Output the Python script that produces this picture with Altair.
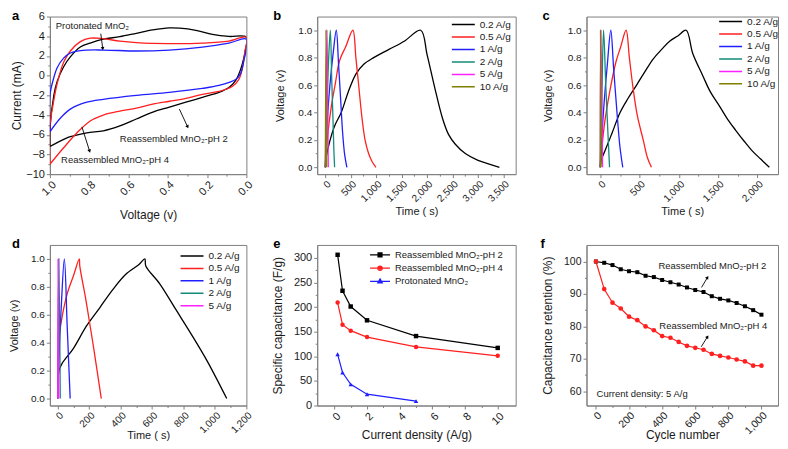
import altair as alt
import pandas as pd

FONT = "Liberation Sans, Arial, Helvetica, sans-serif"
GRAY = "#808080"
INK = "#1a1a1a"

# ---------------- panel a : cyclic voltammetry ----------------
A_NAMES = ["Reassembled MnO\u2082-pH 2", "Reassembled MnO\u2082-pH 4", "Protonated MnO\u2082"]
A_COLORS = ["#000000", "#ff1f1f", "#1f1fff"]
A_PH2_V = [1.0, 1.0, 0.98, 0.963, 0.93, 0.896, 0.845, 0.795, 0.728, 0.644, 0.56, 0.476, 0.392, 0.34, 0.257, 0.173, 0.089, 0.0,
           0.005, 0.013, 0.03, 0.055, 0.089, 0.14, 0.224, 0.308, 0.392, 0.476, 0.56, 0.644, 0.728, 0.812, 0.896, 0.963, 1.0]
A_PH2_I = [-7.2, -5.5, -2.0, -0.6, 0.9, 1.9, 2.9, 3.3, 3.7, 3.95, 4.3, 4.65, 4.85, 4.82, 4.6, 4.2, 3.98, 3.9,
           2.6, 1.8, 0.6, -0.5, -1.2, -1.7, -2.2, -2.7, -3.2, -3.7, -4.4, -5.1, -5.6, -5.8, -6.2, -6.8, -7.2]
A_PH4_V = [1.0, 1.0, 0.98, 0.963, 0.929, 0.896, 0.845, 0.795, 0.728, 0.644, 0.56, 0.392, 0.224, 0.089, 0.0,
           0.008, 0.022, 0.039, 0.072, 0.14, 0.224, 0.308, 0.392, 0.476, 0.56, 0.644, 0.728, 0.795, 0.862, 0.929, 1.0]
A_PH4_I = [-9.0, -5.2, -2.5, -0.8, 1.4, 2.5, 3.45, 3.8, 3.75, 3.5, 3.35, 3.25, 3.3, 3.5, 3.9,
           2.4, 0.6, -0.4, -1.1, -1.6, -1.9, -2.3, -2.6, -2.9, -3.3, -3.6, -4.0, -4.6, -5.8, -7.3, -9.0]
A_PROT_V = [1.0, 1.0, 0.98, 0.963, 0.929, 0.896, 0.845, 0.728, 0.56, 0.392, 0.224, 0.089, 0.0,
            0.013, 0.03, 0.055, 0.14, 0.224, 0.392, 0.56, 0.728, 0.812, 0.896, 0.946, 1.0]
A_PROT_I = [-5.7, -2.0, -0.2, 0.8, 1.8, 2.3, 2.55, 2.6, 2.5, 2.6, 2.9, 3.3, 3.7,
            1.5, 0.2, -0.4, -1.0, -1.3, -1.7, -2.0, -2.4, -2.7, -3.4, -4.3, -5.7]
A_NOTE_TEXT = ["Protonated MnO\u2082", "Reassembled MnO\u2082-pH 2", "Reassembled MnO\u2082-pH 4"]
A_NOTE_V = [0.97, 0.644, 0.943]
A_NOTE_I = [5.0, -6.48, -8.56]
A_ARROW_V1 = [0.741, 0.341, 0.837]
A_ARROW_I1 = [4.26, -3.4, -5.2]
A_ARROW_V2 = [0.731, 0.299, 0.798]
A_ARROW_I2 = [2.74, -5.2, -7.66]
A_ARROW_ANGLE = [172, 155, 163]

# ---------------- panels b, c, d : charge / discharge ----------------
GCD_NAMES = ["0.2 A/g", "0.5 A/g", "1 A/g", "2 A/g", "5 A/g", "10 A/g"]
GCD_COLORS = ["#000000", "#ff2020", "#2020ff", "#138a7a", "#ff20ff", "#7f7f00"]

B_T_02 = [0, 20, 80, 180, 312, 450, 600, 750, 950, 1250, 1550, 1874, 2000, 2150, 2300, 2420, 2550, 2750, 3000, 3250, 3420]
B_V_02 = [0, 0.08, 0.18, 0.30, 0.40, 0.55, 0.68, 0.75, 0.80, 0.86, 0.92, 1.0, 0.82, 0.58, 0.36, 0.24, 0.17, 0.10, 0.05, 0.02, 0.0]
B_T_05 = [0, 50, 120, 200, 260, 300, 400, 540, 600, 660, 720, 780, 850, 920, 995]
B_V_05 = [0, 0.25, 0.45, 0.62, 0.75, 0.80, 0.88, 1.0, 0.80, 0.58, 0.36, 0.20, 0.10, 0.04, 0.0]
B_T_1 = [0, 40, 90, 150, 215, 260, 300, 340, 380, 423]
B_V_1 = [0, 0.35, 0.60, 0.82, 1.0, 0.75, 0.50, 0.25, 0.09, 0.0]
B_T_2 = [0, 30, 60, 98, 125, 150, 168, 182]
B_V_2 = [0, 0.45, 0.75, 1.0, 0.65, 0.35, 0.12, 0.0]
B_T_5 = [0, 15, 33, 45, 58]
B_V_5 = [0, 0.55, 1.0, 0.5, 0.0]
B_T_10 = [0, 13, 26]
B_V_10 = [0, 1.0, 0.0]

C_T_02 = [0, 10, 60, 150, 252, 350, 462, 570, 672, 780, 882, 990, 1092, 1176, 1302, 1400, 1512, 1620, 1722, 1830, 1932, 2040, 2150]
C_V_02 = [0.0, 0.05, 0.12, 0.25, 0.40, 0.50, 0.60, 0.70, 0.79, 0.86, 0.92, 0.96, 1.0, 0.83, 0.67, 0.55, 0.45, 0.35, 0.27, 0.19, 0.12, 0.06, 0.0]
C_T_05 = [0, 50, 120, 200, 260, 328, 370, 412, 470, 546, 600, 651]
C_V_05 = [0, 0.30, 0.55, 0.77, 0.88, 1.0, 0.80, 0.60, 0.38, 0.20, 0.07, 0.0]
C_T_1 = [0, 40, 90, 134, 170, 210, 250, 286]
C_V_1 = [0, 0.40, 0.75, 1.0, 0.72, 0.42, 0.15, 0.0]
C_T_2 = [0, 20, 42, 70, 95, 118]
C_V_2 = [0, 0.50, 1.0, 0.60, 0.28, 0.0]
C_T_5 = [0, 8, 29]
C_V_5 = [0, 1.0, 0.0]
C_T_10 = [0, 3, 10]
C_V_10 = [0, 1.0, 0.0]

D_T_02 = [2, 8, 27, 100, 183, 267, 350, 433, 517, 554, 560, 650, 750, 850, 950, 1075]
D_V_02 = [0.12, 0.20, 0.25, 0.36, 0.52, 0.65, 0.78, 0.89, 0.96, 1.0, 0.95, 0.82, 0.64, 0.46, 0.27, 0.0]
D_T_05 = [0, 3, 10, 30, 60, 100, 137, 140, 180, 230, 277]
D_V_05 = [0, 0.30, 0.45, 0.60, 0.75, 0.88, 1.0, 0.95, 0.70, 0.35, 0.0]
D_T_1 = [0, 8, 22, 42, 60, 79]
D_V_1 = [0, 0.30, 0.65, 1.0, 0.52, 0.0]
D_T_2 = [0, 7, 16]
D_V_2 = [0, 1.0, 0.0]
D_T_5 = [0, 2, 6]
D_V_5 = [0, 1.0, 0.0]

# ---------------- panel e : rate capability ----------------
E_NAMES = ["Reassembled MnO\u2082-pH 2", "Reassembled MnO\u2082-pH 4", "Protonated MnO\u2082"]
E_COLORS = ["#000000", "#ff1f1f", "#1f1fff"]
E_SHAPES = ["square", "circle", "triangle-up"]
E_X_PH2 = [0.2, 0.5, 1, 2, 5, 10]
E_C_PH2 = [306, 233, 201, 173, 141, 117]
E_X_PH4 = [0.2, 0.5, 1, 2, 5, 10]
E_C_PH4 = [209, 164, 152, 139, 119, 101]
E_X_PROT = [0.2, 0.5, 1, 2, 5]
E_C_PROT = [104, 67, 43, 23, 9]

# ---------------- panel f : cycling ----------------
F_NAMES = ["Reassembled MnO\u2082-pH 2", "Reassembled MnO\u2082-pH 4"]
F_COLORS = ["#000000", "#ff1f1f"]
F_CYCLE = [0, 50, 100, 150, 200, 250, 300, 350, 400, 450, 500, 550, 600, 650, 700, 750, 800, 850, 900, 950, 1000]
F_PH2 = [100, 99.6, 98.9, 97.6, 97.0, 96.7, 95.6, 95.2, 94.3, 93.6, 92.9, 92.0, 91.2, 90.6, 89.3, 88.5, 88.0, 87.2, 86.2, 85.0, 83.6]
F_PH4 = [100, 91.5, 87.3, 85.5, 83.0, 81.9, 80.0, 78.8, 77.0, 76.5, 75.2, 74.0, 73.4, 72.8, 71.5, 70.9, 70.4, 69.8, 69.2, 67.9, 67.9]
F_NOTE_TEXT = ["Reassembled MnO\u2082-pH 2", "Reassembled MnO\u2082-pH 4", "Current density: 5 A/g"]
F_NOTE_X = [378, 383, 4]
F_NOTE_Y = [98.7, 80.1, 59.2]
F_ARROW_X1 = [638, 636]
F_ARROW_Y1 = [92.0, 73.7]
F_ARROW_X2 = [674, 674]
F_ARROW_Y2 = [95.1, 76.8]
F_ARROW_ANGLE = [33, 33]


# ---------------- helpers ----------------
def frame(names, xs_list, ys_list):
    rows = []
    for name, xs, ys in zip(names, xs_list, ys_list):
        for i, (x, y) in enumerate(zip(xs, ys)):
            rows.append({"s": name, "x": x, "y": y, "i": i})
    return pd.DataFrame(rows)


def x_axis(values, fmt, title, lsize, tsize, ty):
    return alt.Axis(values=values, format=fmt, title=title, orient="bottom", grid=False,
                    labelAngle=315, labelAlign="right", labelBaseline="top", labelPadding=1,
                    labelFlush=False, labelOverlap=False, tickSize=3.5,
                    labelFontSize=lsize, titleFontSize=tsize, titleY=ty, titleBaseline="alphabetic")


def y_axis(values, fmt, title, lsize, tsize, tx):
    return alt.Axis(values=values, format=fmt, title=title, orient="left", grid=False,
                    labelPadding=2, labelFlush=False, labelOverlap=False, tickSize=3.5,
                    labelFontSize=lsize, titleFontSize=tsize, titleX=tx, titleBaseline="middle")


def minor(df, xs, ys, xmin, ymin):
    return alt.Chart(df).mark_point(opacity=0, size=1).encode(
        x=alt.X("x:Q", scale=xs, axis=alt.Axis(values=xmin, orient="bottom", labels=False, domain=False,
                                               tickSize=2, title=None, grid=False)),
        y=alt.Y("y:Q", scale=ys, axis=alt.Axis(values=ymin, orient="left", labels=False, domain=False,
                                               tickSize=2, title=None, grid=False)))


def letter(ch, dx, dy):
    return alt.Chart(pd.DataFrame({"t": [ch]})).mark_text(
        fontSize=13, fontWeight="bold", align="left", baseline="alphabetic", color="black", font=FONT
    ).encode(text="t:N", x=alt.value(dx), y=alt.value(dy))


def gcd_legend(lx, ly):
    return alt.Legend(orient="none", legendX=lx, legendY=ly, title=None, symbolType="stroke",
                      symbolSize=529, symbolStrokeWidth=1.5, clipHeight=10, rowPadding=2.5,
                      labelFontSize=10, labelOffset=4, padding=0, labelColor=INK, labelFont=FONT)


W1, W2, W3 = 197, 199, 192
H1, H2 = 158, 161

# ---------------- panel a ----------------
a_df = frame(A_NAMES, [A_PH2_V, A_PH4_V, A_PROT_V], [A_PH2_I, A_PH4_I, A_PROT_I])
a_xs = alt.Scale(domain=[0, 1], reverse=True, nice=False, zero=False)
a_ys = alt.Scale(domain=[-10, 6], nice=False, zero=False)
a_lines = alt.Chart(a_df).mark_line(strokeWidth=1.3, interpolate="catmull-rom", clip=True).encode(
    x=alt.X("x:Q", scale=a_xs, axis=x_axis([0, 0.2, 0.4, 0.6, 0.8, 1.0], ".1f", "Voltage (v)", 11, 12, 44)),
    y=alt.Y("y:Q", scale=a_ys, axis=y_axis([-10, -8, -6, -4, -2, 0, 2, 4, 6], "d", "Current (mA)", 11, 12, -33)),
    color=alt.Color("s:N", scale=alt.Scale(domain=A_NAMES, range=A_COLORS), legend=None),
    order="i:Q")
a_note_df = pd.DataFrame({"t": A_NOTE_TEXT, "x": A_NOTE_V, "y": A_NOTE_I})
a_notes = alt.Chart(a_note_df).mark_text(fontSize=9.5, align="left", baseline="middle", color=INK).encode(
    x=alt.X("x:Q", scale=a_xs, axis=None), y=alt.Y("y:Q", scale=a_ys, axis=None), text="t:N")
a_arrow_df = pd.DataFrame({"x": A_ARROW_V1, "y": A_ARROW_I1, "x2": A_ARROW_V2, "y2": A_ARROW_I2, "ang": A_ARROW_ANGLE})
a_rules = alt.Chart(a_arrow_df).mark_rule(strokeWidth=0.9, color="black").encode(
    x=alt.X("x:Q", scale=a_xs, axis=None), y=alt.Y("y:Q", scale=a_ys, axis=None), x2="x2:Q", y2="y2:Q")
a_heads = alt.Chart(a_arrow_df).mark_point(shape="triangle-up", filled=True, size=14, color="black", opacity=1).encode(
    x=alt.X("x2:Q", scale=a_xs, axis=None), y=alt.Y("y2:Q", scale=a_ys, axis=None),
    angle=alt.Angle("ang:Q", scale=None))
pa = alt.layer(
    minor(a_df, a_xs, a_ys, [0.1, 0.3, 0.5, 0.7, 0.9], [-9, -7, -5, -3, -1, 1, 3, 5]),
    a_lines, a_rules, a_heads, a_notes, letter("a", -38, 3)
).resolve_axis(x="independent", y="independent").properties(width=W1, height=H1)


# ---------------- panels b, c, d ----------------
def gcd_panel(ts, vs, names, colors, xdom, xmaj, xmin, ch, lx, ly, width, height, ty, tx, ldx):
    df = frame(names, ts, vs)
    xs = alt.Scale(domain=xdom, nice=False, zero=False)
    ys = alt.Scale(domain=[-0.05, 1.1], nice=False, zero=False)
    lines = alt.Chart(df).mark_line(strokeWidth=1.3, interpolate="catmull-rom", clip=True).encode(
        x=alt.X("x:Q", scale=xs, axis=x_axis(xmaj, ",d", "Time ( s)", 10, 11, ty)),
        y=alt.Y("y:Q", scale=ys, axis=y_axis([0, 0.2, 0.4, 0.6, 0.8, 1.0], ".1f", "Voltage (v)", 10, 11, tx)),
        color=alt.Color("s:N", scale=alt.Scale(domain=names, range=colors), legend=gcd_legend(lx, ly)),
        order="i:Q")
    return alt.layer(
        minor(df, xs, ys, xmin, [0.1, 0.3, 0.5, 0.7, 0.9]), lines, letter(ch, ldx, 3)
    ).resolve_axis(x="independent", y="independent").properties(width=width, height=height)


pb = gcd_panel([B_T_02, B_T_05, B_T_1, B_T_2, B_T_5, B_T_10], [B_V_02, B_V_05, B_V_1, B_V_2, B_V_5, B_V_10],
               GCD_NAMES, GCD_COLORS, [-160, 3740], [0, 500, 1000, 1500, 2000, 2500, 3000, 3500],
               [250, 750, 1250, 1750, 2250, 2750, 3250], "b", 134, 3, W2, H1, 40, -37, -44)
pc = gcd_panel([C_T_02, C_T_05, C_T_1, C_T_2, C_T_5, C_T_10], [C_V_02, C_V_05, C_V_1, C_V_2, C_V_5, C_V_10],
               GCD_NAMES, GCD_COLORS, [-175, 2260], [0, 500, 1000, 1500, 2000],
               [250, 750, 1250, 1750], "c", 132, 0, W3, H1, 40, -38, -44)
pd_ = gcd_panel([D_T_02, D_T_05, D_T_1, D_T_2, D_T_5], [D_V_02, D_V_05, D_V_1, D_V_2, D_V_5],
                GCD_NAMES[:5], GCD_COLORS[:5], [-50, 1200], [0, 200, 400, 600, 800, 1000, 1200],
                [100, 300, 500, 700, 900, 1100], "d", 130, 6, W1, H2, 33, -35, -38)

# ---------------- panel e ----------------
e_df = frame(E_NAMES, [E_X_PH2, E_X_PH4, E_X_PROT], [E_C_PH2, E_C_PH4, E_C_PROT])
e_xs = alt.Scale(domain=[-1.05, 11.1], nice=False, zero=False)
e_ys = alt.Scale(domain=[0, 326], nice=False, zero=False)
e_layers = []
for k, (name, col, shp) in enumerate(zip(E_NAMES, E_COLORS, E_SHAPES)):
    if k == 0:
        ex = alt.X("x:Q", scale=e_xs, axis=x_axis([0, 2, 4, 6, 8, 10], "d", "Current density (A/g)", 11, 12, 33))
        ey = alt.Y("y:Q", scale=e_ys, axis=y_axis([0, 50, 100, 150, 200, 250, 300], "d",
                                                   "Specific capacitance (F/g)", 11, 12, -40))
    else:
        ex = alt.X("x:Q", scale=e_xs, axis=None)
        ey = alt.Y("y:Q", scale=e_ys, axis=None)
    sub = alt.Chart(e_df).transform_filter(alt.datum.s == name)
    e_layers.append(sub.mark_line(strokeWidth=1.2, color=col).encode(x=ex, y=ey, order="i:Q"))
    e_layers.append(sub.mark_point(shape=shp, filled=True, size=20, opacity=1, color=col).encode(
        x=alt.X("x:Q", scale=e_xs, axis=None), y=alt.Y("y:Q", scale=e_ys, axis=None)))

E_LEGEND_PATHS = [
    "M-1,0H1M-0.2,-0.2H0.2V0.2H-0.2ZM-0.08,-0.08H0.08V0.08H-0.08Z",
    "M-1,0H1M-0.22,0A0.22,0.22,0,1,0,0.22,0A0.22,0.22,0,1,0,-0.22,0Z"
    "M-0.1,0A0.1,0.1,0,1,0,0.1,0A0.1,0.1,0,1,0,-0.1,0Z",
    "M-1,0H1M0,-0.26L0.23,0.15H-0.23ZM0,-0.08L0.07,0.06H-0.07Z",
]
e_leg = alt.Legend(orient="none", legendX=52, legendY=5, title=None, symbolSize=400, symbolStrokeWidth=1.2,
                   symbolOpacity=1, clipHeight=10, rowPadding=3.3, labelFontSize=9.5, labelOffset=4,
                   padding=0, labelColor=INK, labelFont=FONT, labelLimit=250)
e_legend_layer = alt.Chart(e_df).mark_point(filled=False, strokeWidth=1.2, opacity=0).encode(
    x=alt.X("x:Q", scale=e_xs, axis=None), y=alt.Y("y:Q", scale=e_ys, axis=None),
    stroke=alt.Stroke("s:N", scale=alt.Scale(domain=E_NAMES, range=E_COLORS), legend=e_leg),
    shape=alt.Shape("s:N", scale=alt.Scale(domain=E_NAMES, range=E_LEGEND_PATHS), legend=e_leg))
pe = alt.layer(
    minor(e_df, e_xs, e_ys, [1, 3, 5, 7, 9], [25, 75, 125, 175, 225, 275]),
    *e_layers, e_legend_layer, letter("e", -44, 3)
).resolve_axis(x="independent", y="independent").properties(width=W2, height=H2)

# ---------------- panel f ----------------
f_df = frame(F_NAMES, [F_CYCLE, F_CYCLE], [F_PH2, F_PH4])
f_xs = alt.Scale(domain=[-57, 1100], nice=False, zero=False)
f_ys = alt.Scale(domain=[55.6, 105.1], nice=False, zero=False)
f_color = alt.Scale(domain=F_NAMES, range=F_COLORS)
f_lines = alt.Chart(f_df).mark_line(strokeWidth=1.2).encode(
    x=alt.X("x:Q", scale=f_xs, axis=x_axis([0, 200, 400, 600, 800, 1000], ",d", "Cycle number", 10.5, 12, 33)),
    y=alt.Y("y:Q", scale=f_ys, axis=y_axis([60, 70, 80, 90, 100], "d", "Capacitance retention (%)", 10.5, 12, -39)),
    color=alt.Color("s:N", scale=f_color, legend=None),
    order="i:Q")
f_points = [
    alt.Chart(f_df).transform_filter(alt.datum.s == name).mark_point(shape=shape, filled=True, size=size, opacity=1).encode(
        x=alt.X("x:Q", scale=f_xs, axis=None), y=alt.Y("y:Q", scale=f_ys, axis=None),
        color=alt.Color("s:N", scale=f_color, legend=None))
    for name, shape, size in zip(F_NAMES, ["square", "circle"], [16, 22])
]
f_note_df = pd.DataFrame({"t": F_NOTE_TEXT, "x": F_NOTE_X, "y": F_NOTE_Y})
f_notes = alt.Chart(f_note_df).mark_text(fontSize=9.5, align="left", baseline="middle", color=INK).encode(
    x=alt.X("x:Q", scale=f_xs, axis=None), y=alt.Y("y:Q", scale=f_ys, axis=None), text="t:N")
f_arrow_df = pd.DataFrame({"x": F_ARROW_X1, "y": F_ARROW_Y1, "x2": F_ARROW_X2, "y2": F_ARROW_Y2, "ang": F_ARROW_ANGLE})
f_rules = alt.Chart(f_arrow_df).mark_rule(strokeWidth=0.9, color="black").encode(
    x=alt.X("x:Q", scale=f_xs, axis=None), y=alt.Y("y:Q", scale=f_ys, axis=None), x2="x2:Q", y2="y2:Q")
f_heads = alt.Chart(f_arrow_df).mark_point(shape="triangle-up", filled=True, size=14, color="black", opacity=1).encode(
    x=alt.X("x2:Q", scale=f_xs, axis=None), y=alt.Y("y2:Q", scale=f_ys, axis=None),
    angle=alt.Angle("ang:Q", scale=None))
pf = alt.layer(
    minor(f_df, f_xs, f_ys, [100, 300, 500, 700, 900], [65, 75, 85, 95]),
    f_lines, *f_points, f_rules, f_heads, f_notes, letter("f", -46, 3)
).resolve_axis(x="independent", y="independent").properties(width=W3, height=H2)

chart = alt.concat(
    pa, pb, pc, pd_, pe, pf, columns=3,
    spacing={"row": 71, "column": 71}, bounds="flush", align="each"
).resolve_scale(color="independent", stroke="independent", shape="independent").properties(padding=0)

chart = (chart.configure(font=FONT)
         .configure_view(stroke=GRAY, strokeWidth=1)
         .configure_axis(domainColor=GRAY, tickColor=GRAY, labelColor=INK, titleColor=INK,
                         labelFont=FONT, titleFont=FONT, titleFontWeight="normal",
                         domainWidth=1, tickWidth=1)
         .configure_legend(labelFont=FONT)
         .configure_text(font=FONT))

chart.save("out.html", embed_options={"renderer": "svg", "actions": False})
